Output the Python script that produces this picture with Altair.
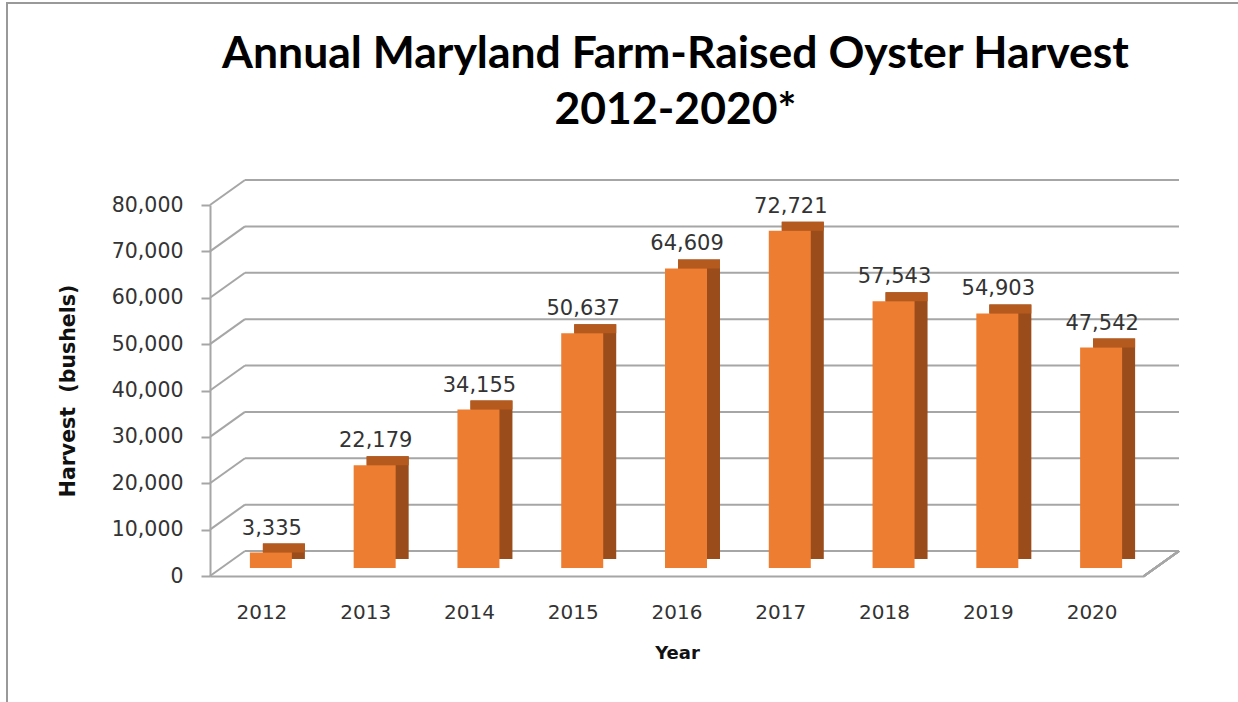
import altair as alt
import pandas as pd

years = ["2012", "2013", "2014", "2015", "2016", "2017", "2018", "2019", "2020"]
harvest = [3335, 22179, 34155, 50637, 64609, 72721, 57543, 54903, 47542]
y_ticks = [0, 10000, 20000, 30000, 40000, 50000, 60000, 70000, 80000]

df = pd.DataFrame({"Year": years, "Harvest": harvest})
grid_df = pd.DataFrame({"v": y_ticks})

W, H = 969, 371
FRONT_W = 934
DX, DY = 35, 25          # depth of the back wall
ORANGE = "#ED7D31"
SIDE = "#9A4D1B"
TOP = "#B55A1E"
GRID = "#A6A6A6"
FONT = "DejaVu Sans"
Y_TITLE = "Harvest\u00a0 (bushels)"

x_scale = alt.Scale(range=[0, FRONT_W])
x_axis = alt.Axis(title="Year", labelAngle=0, labelFont=FONT, labelFontSize=20,
                  labelColor="#333333", labelPadding=26, ticks=False,
                  domainColor=GRID, domainWidth=2,
                  titleFont=FONT, titleFontSize=18, titleFontWeight="bold",
                  titleColor="#111111", titlePadding=22)
y_scale = alt.Scale(domain=[0, 80000], nice=False, zero=True)
y_axis = alt.Axis(title=Y_TITLE, values=y_ticks, labelExpr="format(datum.value, ',')",
                  grid=False, labelFont=FONT, labelFontSize=20.5, labelColor="#333333",
                  labelPadding=18, tickSize=9, tickColor=GRID, tickWidth=2,
                  domainColor=GRID, domainWidth=2,
                  titleFont=FONT, titleFontSize=20.5, titleFontWeight="bold",
                  titleColor="#111111", titlePadding=33)


def X():
    return alt.X("Year:N", sort=years, scale=x_scale, axis=x_axis, title="Year")


def Y(field):
    return alt.Y(field, scale=y_scale, axis=y_axis, title=Y_TITLE)


# back-wall gridlines
back = alt.Chart(grid_df).mark_rule(color=GRID, strokeWidth=2, yOffset=-DY).encode(
    y=Y("v:Q"), x=alt.value(DX), x2=alt.value(W))
diag = alt.Chart(grid_df).mark_rule(color=GRID, strokeWidth=2, y2Offset=-DY).encode(
    y=Y("v:Q"), y2="v:Q", x=alt.value(0), x2=alt.value(DX))
floor_right = alt.Chart(grid_df).mark_rule(color=GRID, strokeWidth=2, y2Offset=-DY).encode(
    y=alt.datum(0, scale=y_scale, axis=y_axis, title=Y_TITLE), y2=alt.datum(0),
    x=alt.value(FRONT_W), x2=alt.value(W))

# faux-3D bars
side = alt.Chart(df).mark_bar(size=42, color=SIDE, xOffset=22, yOffset=-17, y2Offset=-17).encode(
    x=X(), y=Y("Harvest:Q"), y2=alt.datum(0))
top = alt.Chart(df).mark_bar(size=42, color=TOP, xOffset=22, yOffset=-17, y2Offset=-8).encode(
    x=X(), y=Y("Harvest:Q"), y2="Harvest:Q")
front = alt.Chart(df).mark_bar(size=42, color=ORANGE, xOffset=9, yOffset=-8, y2Offset=-8).encode(
    x=X(), y=Y("Harvest:Q"), y2=alt.datum(0))

labels = alt.Chart(df).mark_text(font=FONT, fontSize=21, color="#333333", dx=10, dy=-26,
                                 baseline="alphabetic", align="center").encode(
    x=X(), y=Y("Harvest:Q"), text=alt.Text("Harvest:Q", format=","))

# outer frame lines (top and left edges of the picture)
frame_top = alt.Chart(grid_df).mark_rule(color="#999999", strokeWidth=2).encode(
    x=alt.value(-204), x2=alt.value(W + 59), y=alt.value(-202))
frame_left = alt.Chart(grid_df).mark_rule(color="#999999", strokeWidth=2).encode(
    x=alt.value(-203), y=alt.value(-202), y2=alt.value(H + 126))

chart = alt.layer(back, diag, floor_right, side, top, front, labels, frame_top, frame_left).properties(
    width=W, height=H,
    background="white",
    view=alt.ViewBackground(stroke="transparent", strokeWidth=0, strokeOpacity=0),
    title=alt.TitleParams(["Annual Maryland Farm-Raised Oyster Harvest", "2012-2020*"],
                          font="Lato", fontSize=44.5, fontWeight="bold", color="#000000",
                          lineHeight=56, anchor="middle", dx=-19, dy=131, offset=0),
    autosize=alt.AutoSizeParams(type="none"),
    padding={"left": 210, "top": 205, "right": 59, "bottom": 126},
).configure_view(stroke="transparent", strokeWidth=0, strokeOpacity=0)

chart.save("out.html", embed_options={"renderer": "svg", "actions": False})
